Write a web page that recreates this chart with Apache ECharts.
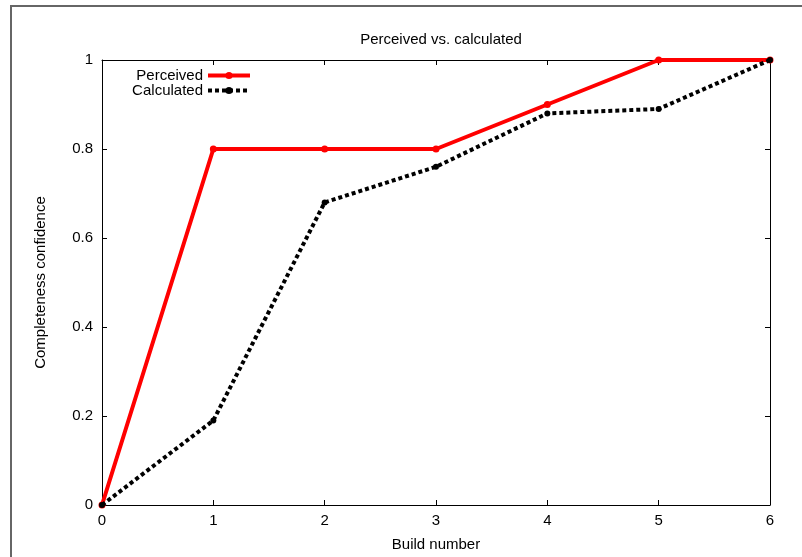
<!DOCTYPE html>
<html>
<head>
<meta charset="utf-8">
<script src="https://cdn.jsdelivr.net/npm/echarts@6/dist/echarts.min.js"></script>
<style>
  html, body { margin: 0; padding: 0; background: #fff; }
  #chart { width: 802px; height: 557px; }
</style>
</head>
<body>
<div id="chart"></div>
<script>
// build numbers and the two confidence curves
var builds = [0, 1, 2, 3, 4, 5, 6];
var perceived = [0, 0.8, 0.8, 0.8, 0.9, 1, 1];
var calculated = [0, 0.19, 0.68, 0.76, 0.88, 0.89, 1];

var font = 'Liberation Sans, Arial, sans-serif';

function pairs(ys) {
  return builds.map(function (x, i) { return [x, ys[i]]; });
}

var chart = echarts.init(document.getElementById('chart'));

var baseAxis = {
  type: 'value',
  min: 0,
  axisLine: { show: true, onZero: false, lineStyle: { color: '#000', width: 1 } },
  axisTick: { show: true, inside: true, length: 5, lineStyle: { color: '#000' } },
  splitLine: { show: false },
  axisLabel: { color: '#000', fontFamily: font, fontSize: 15 }
};

var option = {
  animation: false,
  backgroundColor: '#fff',
  title: {
    text: 'Perceived vs. calculated',
    left: 436,
    textAlign: 'center',
    top: 27,
    textStyle: { fontFamily: font, fontSize: 15, fontWeight: 'normal', color: '#000' }
  },
  legend: {
    orient: 'vertical',
    left: 126,
    top: 63,
    align: 'right',
    itemGap: 0,
    itemWidth: 42,
    itemHeight: 9,
    textStyle: { fontFamily: font, fontSize: 15, lineHeight: 15, color: '#000', width: 72, align: 'right' },
    data: [
      { name: 'Perceived', itemStyle: { color: '#ff0000' }, lineStyle: { width: 4 } },
      { name: 'Calculated', itemStyle: { color: '#000' }, lineStyle: { width: 4 } }
    ]
  },
  grid: { left: 102, right: 32, top: 60, bottom: 52 },
  xAxis: [
    Object.assign({}, baseAxis, {
      max: 6, interval: 1,
      name: 'Build number',
      nameLocation: 'middle',
      nameGap: 32,
      nameTextStyle: { fontFamily: font, fontSize: 15, color: '#000' },
      axisLabel: { color: '#000', fontFamily: font, fontSize: 15, margin: 8 }
    }),
    Object.assign({}, baseAxis, {
      max: 6, interval: 1, position: 'top',
      axisLabel: { show: false }
    })
  ],
  yAxis: [
    Object.assign({}, baseAxis, {
      max: 1, interval: 0.2,
      name: 'Completeness confidence',
      nameLocation: 'middle',
      nameGap: 54,
      nameTextStyle: { fontFamily: font, fontSize: 15, color: '#000' },
      axisLabel: { color: '#000', fontFamily: font, fontSize: 15, margin: 9 }
    }),
    Object.assign({}, baseAxis, {
      max: 1, interval: 0.2, position: 'right',
      axisLabel: { show: false }
    })
  ],
  graphic: [{
    type: 'rect',
    shape: { x: 11, y: 6, width: 820, height: 600 },
    style: { fill: 'none', stroke: '#666', lineWidth: 2 },
    silent: true
  }],
  series: [
    {
      name: 'Perceived',
      type: 'line',
      data: pairs(perceived),
      symbol: 'circle',
      symbolSize: 7,
      lineStyle: { color: '#ff0000', width: 4 },
      itemStyle: { color: '#ff0000' },
      z: 3
    },
    {
      name: 'Calculated',
      type: 'line',
      data: pairs(calculated),
      symbol: 'circle',
      symbolSize: 6,
      lineStyle: { color: '#000', width: 4, type: [4, 3] },
      itemStyle: { color: '#000' },
      z: 4
    }
  ]
};

chart.setOption(option);
</script>
</body>
</html>
